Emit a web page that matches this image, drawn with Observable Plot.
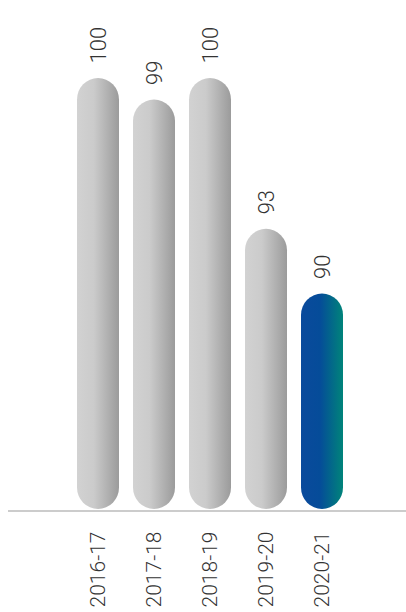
<!DOCTYPE html>
<html>
<head>
<meta charset="utf-8">
<script src="https://cdn.jsdelivr.net/npm/d3@7"></script>
<script src="https://cdn.jsdelivr.net/npm/@observablehq/plot@0.6"></script>
<style>
  html, body { margin: 0; padding: 0; background: #fff; }
  svg { display: block; }
</style>
</head>
<body>
<div id="chart"></div>
<script>
const years = ["2016-17", "2017-18", "2018-19", "2019-20", "2020-21"];
const values = [100, 99, 100, 93, 90];
const highlight = [false, false, false, false, true];

const data = years.map((year, i) => ({year, value: values[i], hl: highlight[i]}));

const chart = Plot.plot({
  width: 406,
  height: 612,
  marginLeft: 8,
  marginRight: 0,
  marginTop: 0,
  marginBottom: 102,
  style: {fontFamily: "Roboto, 'Open Sans', sans-serif", fontWeight: 300, background: "#fff"},
  x: {domain: years, range: [68.1, 351.9], paddingInner: 0.242, paddingOuter: 0.121, label: null},
  y: {domain: [80, 100], range: [509, 78], axis: null},
  marks: [
    Plot.barY(data, {
      x: "year", y1: 80, y2: "value",
      fill: d => d.hl ? "url(#gradBlue)" : "url(#gradGrey)",
      rx: 21.5
    }),
    Plot.ruleY([80], {stroke: "#9a9a9a", strokeWidth: 1.2, dy: 1.5}),
    Plot.text(data, {
      x: "year", y: "value", text: d => String(d.value),
      rotate: -90, textAnchor: "start", dy: -15,
      fontSize: 22, fill: "#333"
    }),
    Plot.axisX({tickRotate: -90, tickSize: 0, tickPadding: 21, fontSize: 21, color: "#333", label: null})
  ]
});

const defs = d3.select(chart).insert("defs", ":first-child");
const g1 = defs.append("linearGradient").attr("id", "gradGrey")
  .attr("x1", "0").attr("x2", "1").attr("y1", "0").attr("y2", "0");
g1.append("stop").attr("offset", "0%").attr("stop-color", "#d2d2d2");
g1.append("stop").attr("offset", "40%").attr("stop-color", "#cbcbcb");
g1.append("stop").attr("offset", "100%").attr("stop-color", "#9b9b9b");
const g2 = defs.append("linearGradient").attr("id", "gradBlue")
  .attr("x1", "0").attr("x2", "1").attr("y1", "0").attr("y2", "0");
g2.append("stop").attr("offset", "0%").attr("stop-color", "#0a4a9c");
g2.append("stop").attr("offset", "45%").attr("stop-color", "#054c99");
g2.append("stop").attr("offset", "100%").attr("stop-color", "#00847a");

document.getElementById("chart").appendChild(chart);
</script>
</body>
</html>
